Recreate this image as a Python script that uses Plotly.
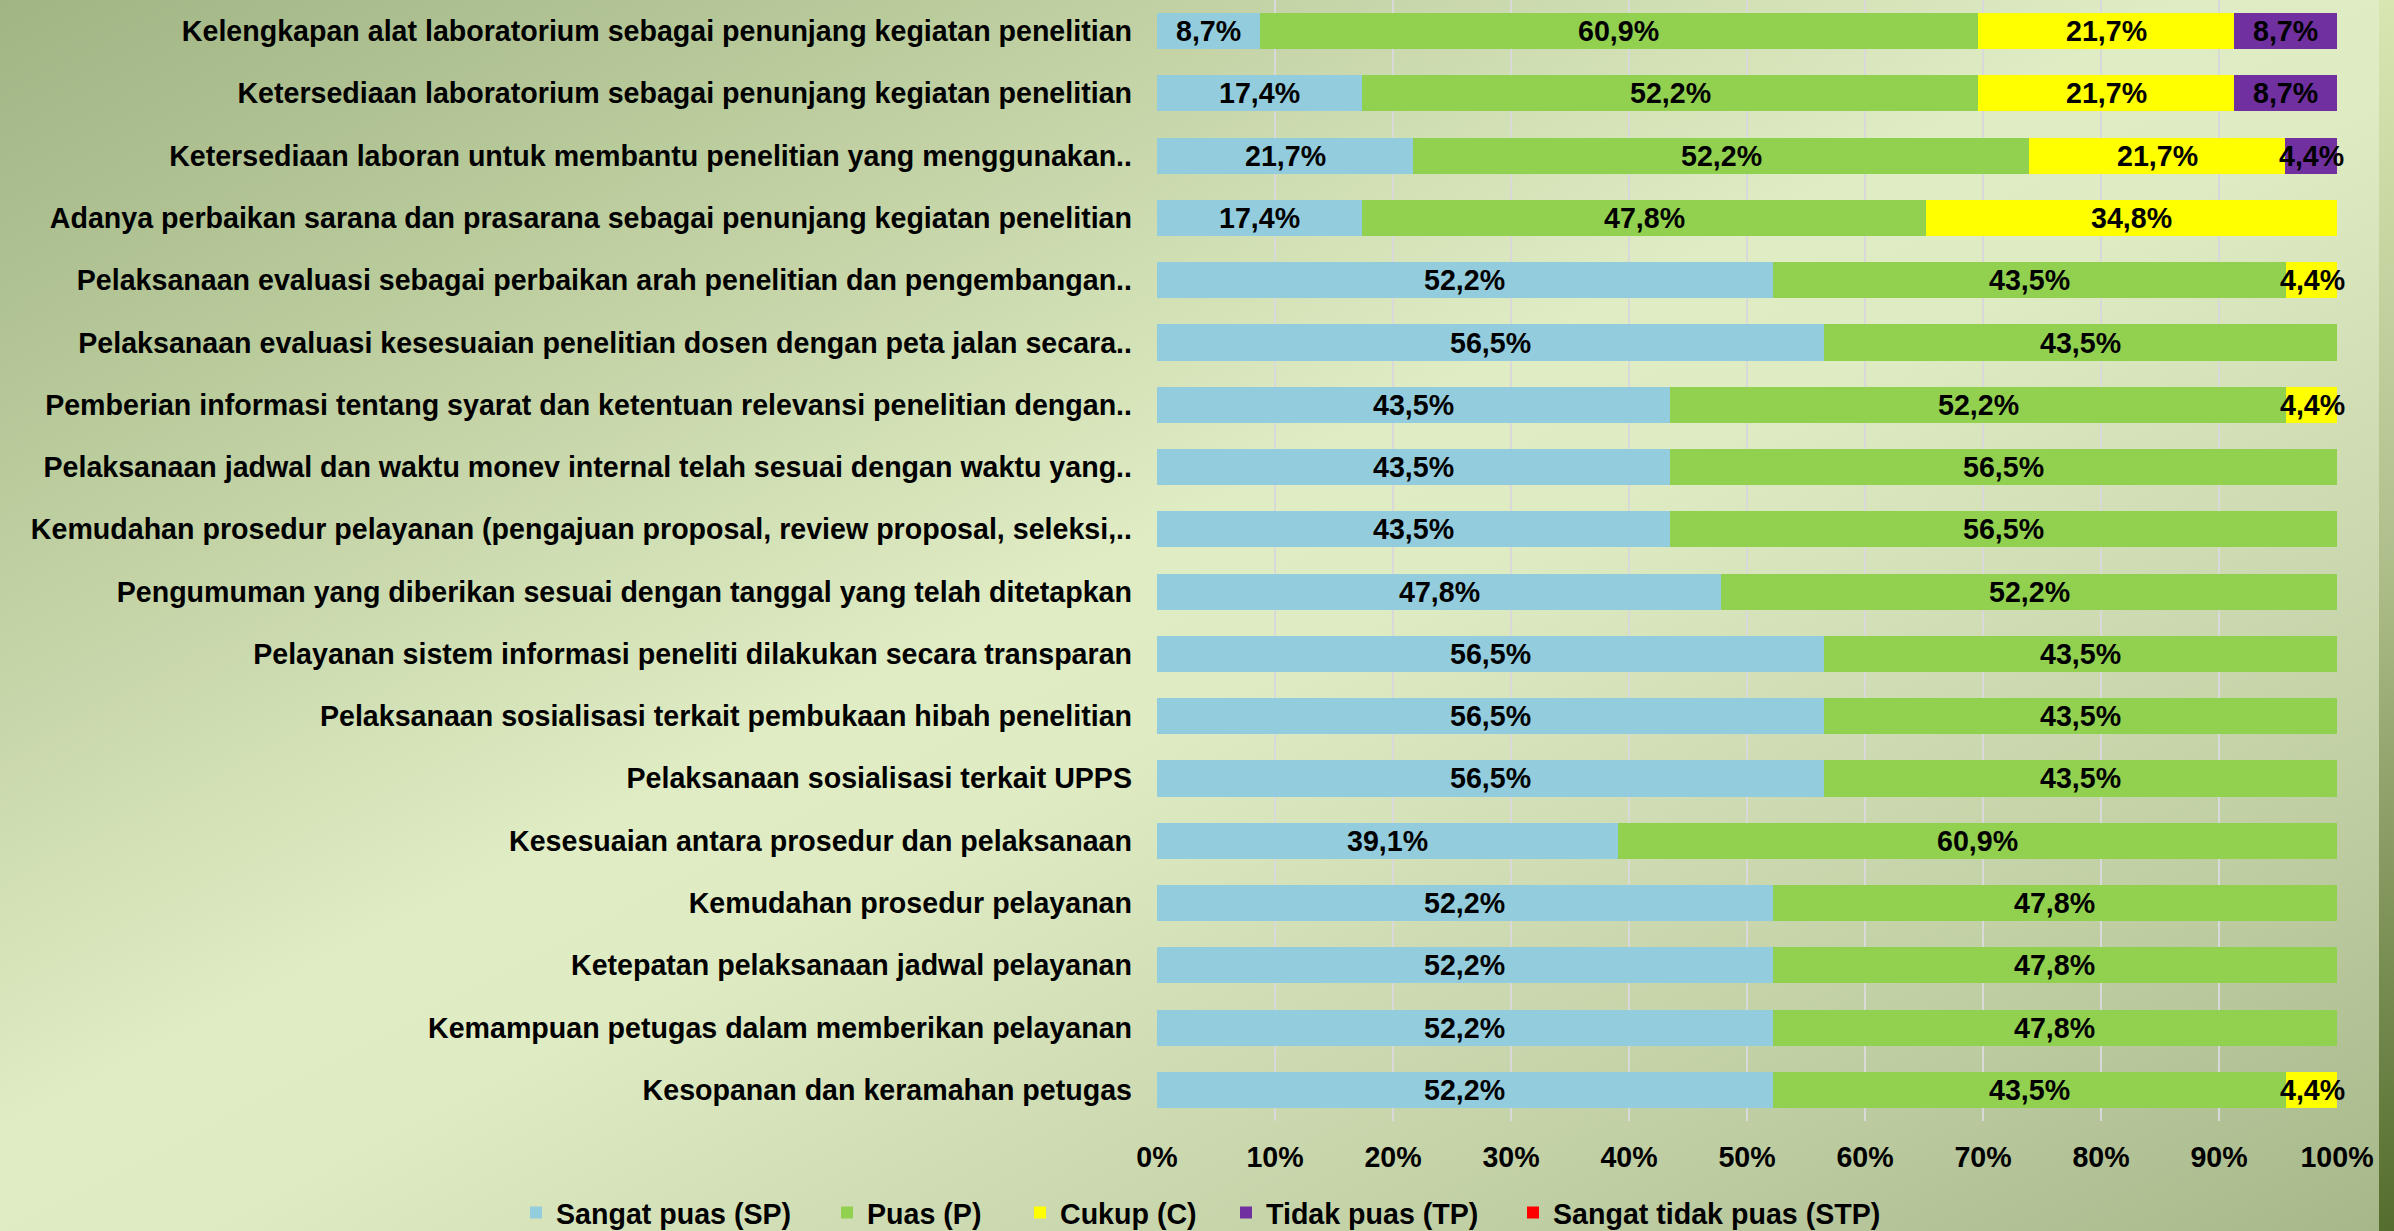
import base64
import plotly.graph_objects as go

categories = [
    "Kelengkapan alat laboratorium sebagai penunjang kegiatan penelitian",
    "Ketersediaan laboratorium sebagai penunjang kegiatan penelitian",
    "Ketersediaan laboran untuk membantu penelitian yang menggunakan..",
    "Adanya perbaikan sarana dan prasarana sebagai penunjang kegiatan penelitian",
    "Pelaksanaan evaluasi sebagai perbaikan arah penelitian dan pengembangan..",
    "Pelaksanaan evaluasi kesesuaian penelitian dosen dengan peta jalan secara..",
    "Pemberian informasi tentang syarat dan ketentuan relevansi penelitian dengan..",
    "Pelaksanaan jadwal dan waktu monev internal telah sesuai dengan waktu yang..",
    "Kemudahan prosedur pelayanan (pengajuan proposal, review proposal, seleksi,..",
    "Pengumuman yang diberikan sesuai dengan tanggal yang telah ditetapkan",
    "Pelayanan sistem informasi peneliti dilakukan secara transparan",
    "Pelaksanaan sosialisasi terkait pembukaan hibah penelitian",
    "Pelaksanaan sosialisasi terkait UPPS",
    "Kesesuaian antara prosedur dan pelaksanaan",
    "Kemudahan prosedur pelayanan",
    "Ketepatan pelaksanaan jadwal pelayanan",
    "Kemampuan petugas dalam memberikan pelayanan",
    "Kesopanan dan keramahan petugas",
]

sp = [8.7, 17.4, 21.7, 17.4, 52.2, 56.5, 43.5, 43.5, 43.5, 47.8, 56.5, 56.5, 56.5, 39.1, 52.2, 52.2, 52.2, 52.2]
p = [60.9, 52.2, 52.2, 47.8, 43.5, 43.5, 52.2, 56.5, 56.5, 52.2, 43.5, 43.5, 43.5, 60.9, 47.8, 47.8, 47.8, 43.5]
c = [21.7, 21.7, 21.7, 34.8, 4.4, 0, 4.4, 0, 0, 0, 0, 0, 0, 0, 0, 0, 0, 4.4]
tp = [8.7, 8.7, 4.4, 0, 0, 0, 0, 0, 0, 0, 0, 0, 0, 0, 0, 0, 0, 0]
stp = [0, 0, 0, 0, 0, 0, 0, 0, 0, 0, 0, 0, 0, 0, 0, 0, 0, 0]

series_names = ["Sangat puas (SP)", "Puas (P)", "Cukup (C)", "Tidak puas (TP)", "Sangat tidak puas (STP)"]
series_values = [sp, p, c, tp, stp]
series_colors = ["#93CDDD", "#92D050", "#FFFF00", "#7030A0", "#FF0000"]

FONT = "Liberation Sans, Arial, sans-serif"
FS = 28.6

W, H = 2394, 1231
L, R, T, B = 1157, 57, 0, 110
pw, ph = W - L - R, H - T - B

# left edge (px) of each legend swatch in the reference
legend_marker_x = [530, 841, 1034, 1240, 1527]


def fmt(v):
    return f"{v:.1f}".replace(".", ",") + "%"


fig = go.Figure()
legend_ids = ["legend", "legend2", "legend3", "legend4", "legend5"]
for name, vals, col, lid in zip(series_names, series_values, series_colors, legend_ids):
    fig.add_trace(go.Bar(
        y=categories, x=vals, name=name, orientation="h",
        marker=dict(color=col, line=dict(width=0)),
        hoverinfo="x+y+name", legend=lid,
    ))

# data labels centred on each segment
annotations = []
for i, cat in enumerate(categories):
    start = 0.0
    for s in series_values:
        v = s[i]
        if v > 0:
            annotations.append(dict(
                x=start + v / 2, y=cat, xref="x", yref="y", text=fmt(v), showarrow=False,
                xanchor="center", yanchor="middle",
                font=dict(family=FONT, size=FS, color="black", weight="bold"),
            ))
        start += v

svg = f'''<svg xmlns="http://www.w3.org/2000/svg" width="{W}" height="{H}" viewBox="0 0 {W} {H}" preserveAspectRatio="none">
<defs>
<linearGradient id="g" x1="0" y1="0" x2="1" y2="1">
<stop offset="0" stop-color="#A0B484"/>
<stop offset="0.2" stop-color="#BACB9C"/>
<stop offset="0.46" stop-color="#E0ECC4"/>
<stop offset="0.54" stop-color="#DFEBC3"/>
<stop offset="0.8" stop-color="#C2D0A6"/>
<stop offset="1" stop-color="#A6B88A"/>
</linearGradient>
<linearGradient id="s" x1="0" y1="0" x2="0" y2="1">
<stop offset="0" stop-color="#D8E6B2"/>
<stop offset="0.45" stop-color="#B0C08C"/>
<stop offset="1" stop-color="#556D2E"/>
</linearGradient>
</defs>
<rect x="0" y="0" width="2380" height="{H}" fill="url(#g)"/>
<rect x="2379" y="0" width="{W - 2379}" height="{H}" fill="url(#s)"/>
</svg>'''
src = "data:image/svg+xml;base64," + base64.b64encode(svg.encode()).decode()

legend_font = dict(family=FONT, size=FS, color="black", weight="bold")
legend_layout = {}
for lid, mx in zip(legend_ids, legend_marker_x):
    legend_layout[lid] = dict(
        orientation="h", xref="container", yref="container",
        x=(mx - 14) / W, y=1 - 1213 / H, xanchor="left", yanchor="middle",
        bgcolor="rgba(0,0,0,0)", borderwidth=0, font=legend_font,
    )

fig.update_layout(
    width=W, height=H,
    margin=dict(l=L, r=R, t=T, b=B, pad=0, autoexpand=False),
    barmode="stack", bargap=0.42,
    paper_bgcolor="#D8E4BC", plot_bgcolor="rgba(0,0,0,0)",
    font=dict(family=FONT, size=FS, color="black"),
    annotations=annotations,
    images=[dict(source=src, xref="paper", yref="paper",
                 x=-L / pw, y=1 + T / ph, sizex=W / pw, sizey=H / ph,
                 xanchor="left", yanchor="top", sizing="stretch", layer="below")],
    xaxis=dict(range=[0, 100], dtick=10, tick0=0, ticksuffix="%",
               showgrid=True, gridcolor="#D9D9D9", gridwidth=2,
               zeroline=False, showline=False, ticks="",
               ticklabelstandoff=16, automargin=False,
               tickfont=dict(family=FONT, size=FS, color="black", weight="bold")),
    yaxis=dict(type="category", categoryorder="array", categoryarray=categories,
               autorange="reversed", showgrid=False, zeroline=False, showline=False,
               ticks="", ticklabelstandoff=24, automargin=False,
               tickfont=dict(family=FONT, size=FS, color="black", weight="bold")),
    showlegend=True,
    **legend_layout,
)

fig.write_html("out.html", config={"displayModeBar": False},
               post_script="document.body.style.margin='0';document.body.style.overflow='hidden';")
